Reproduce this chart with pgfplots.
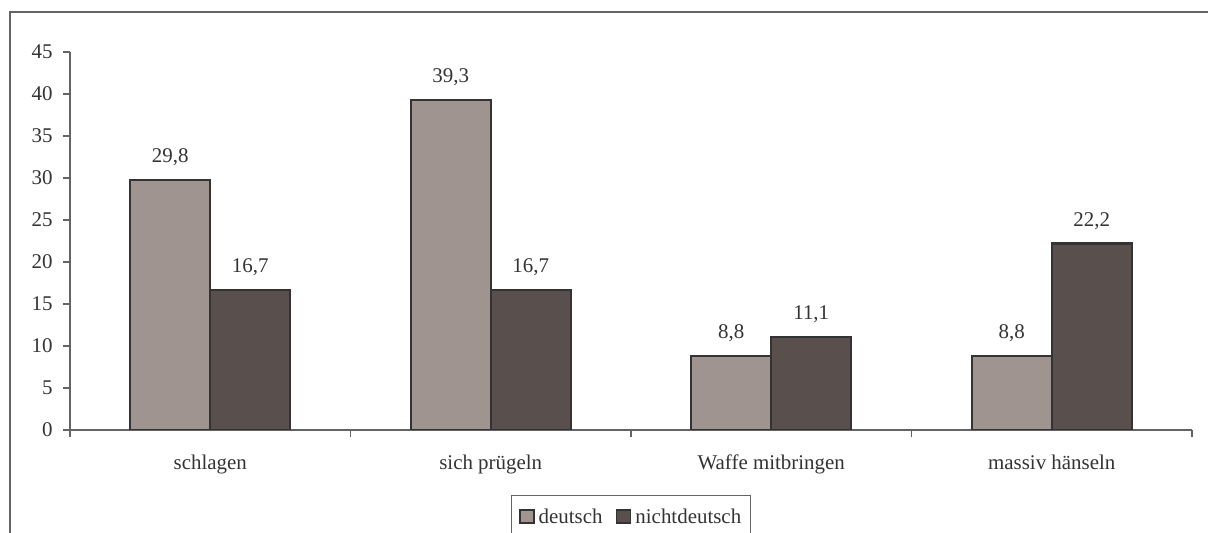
\documentclass[border=0pt]{standalone}
\usepackage{fontspec}
\setmainfont{Liberation Serif}
\usepackage{pgfplots}
\pgfplotsset{compat=1.18}
\definecolor{deu}{RGB}{160,148,144}
\definecolor{ndeu}{RGB}{89,79,76}
\definecolor{edge}{RGB}{51,51,51}
\definecolor{txt}{RGB}{51,51,51}
\definecolor{axc}{RGB}{100,100,100}
\begin{document}
\begin{tikzpicture}[x=1bp,y=1bp]
\path[use as bounding box] (0,0) rectangle (1208,533);
\draw[axc, line width=1.3bp] (10,-20) -- (10,521) -- (1230,521);
\begin{axis}[
  at={(70bp,103bp)}, anchor=south west,
  scale only axis, width=1122bp, height=378bp,
  xmin=-0.5, xmax=3.5, ymin=0, ymax=45,
  enlargelimits=false,
  ytick={0,5,...,45},
  xtick={-0.5,0.5,1.5,2.5,3.5},
  xticklabels={schlagen,sich prügeln,Waffe mitbringen,massiv hänseln},
  x tick label as interval,
  axis x line*=bottom, axis y line*=left,
  axis line style={axc, line width=1.3bp, -},
  tick style={axc, line width=1.3bp},
  tick align=outside, major tick length=7bp,
  ybar=0pt, bar width=80bp,
  font=\fontsize{21}{25}\selectfont,
  tick label style={text=txt, font=\fontsize{21}{25}\selectfont},
  xticklabel style={yshift=-14bp},
  yticklabel style={xshift=-7bp},
  /pgf/number format/assume math mode=true,
  nodes near coords={\pgfmathprintnumber[use comma,fixed,fixed zerofill,precision=1,assume math mode=true]{\pgfplotspointmeta}},
  nodes near coords style={text=txt, font=\fontsize{21}{25}\selectfont, yshift=9.5bp},
  legend style={at={(0.5,-0.172)}, anchor=north, draw=axc, line width=1.3bp,
    text=txt, font=\fontsize{21}{25}\selectfont, inner xsep=7bp, inner ysep=11bp,
    /tikz/every even column/.append style={column sep=11bp}},
  legend columns=2,
]
\addplot[fill=deu, draw=edge, line width=2.2bp,
  legend image code/.code={\path[draw=none,fill=none] (0bp,0bp) -- (17bp,0bp);\draw[fill=deu, draw=edge, line width=1.8bp] (0bp,-6.5bp) rectangle (14bp,6.5bp);}]
  coordinates {(0,29.8) (1,39.3) (2,8.8) (3,8.8)};
\addplot[fill=ndeu, draw=edge, line width=2.2bp,
  legend image code/.code={\path[draw=none,fill=none] (0bp,0bp) -- (17bp,0bp);\draw[fill=ndeu, draw=edge, line width=1.8bp] (0bp,-6.5bp) rectangle (14bp,6.5bp);}]
  coordinates {(0,16.7) (1,16.7) (2,11.1) (3,22.2)};
\legend{deutsch,nichtdeutsch}
\end{axis}
\end{tikzpicture}
\end{document}
